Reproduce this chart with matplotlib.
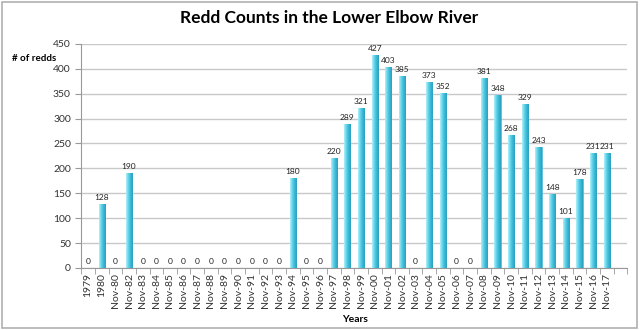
import matplotlib
matplotlib.use("Agg")
import matplotlib.pyplot as plt
from matplotlib.colors import LinearSegmentedColormap
import numpy as np

# data
years = ["1979", "1980", "Nov-80", "Nov-82", "Nov-83", "Nov-84", "Nov-85", "Nov-86",
         "Nov-87", "Nov-88", "Nov-89", "Nov-90", "Nov-91", "Nov-92", "Nov-93", "Nov-94",
         "Nov-95", "Nov-96", "Nov-97", "Nov-98", "Nov-99", "Nov-00", "Nov-01", "Nov-02",
         "Nov-03", "Nov-04", "Nov-05", "Nov-06", "Nov-07", "Nov-08", "Nov-09", "Nov-10",
         "Nov-11", "Nov-12", "Nov-13", "Nov-14", "Nov-15", "Nov-16", "Nov-17"]
redds = [0, 128, 0, 190, 0, 0, 0, 0,
         0, 0, 0, 0, 0, 0, 0, 180,
         0, 0, 220, 289, 321, 427, 403, 385,
         0, 373, 352, 0, 0, 381, 348, 268,
         329, 243, 148, 101, 178, 231, 231]

plt.rcParams['font.family'] = ['Lato', 'DejaVu Sans']

fig = plt.figure(figsize=(6.4, 3.3), dpi=100)
ax = fig.add_axes([0.127, 0.188, 0.853, 0.679])

x = np.arange(len(years))
bars = ax.bar(x, redds, width=0.45, color="#5fd0e8", edgecolor="#3fb6d2", linewidth=0.5, zorder=2)

# horizontal gradient inside each bar
cmap = LinearSegmentedColormap.from_list("cy", ["#b5f0fb", "#62d4ea", "#3bb8d4", "#2a9fbf"])
grad = np.linspace(0, 1, 64).reshape(1, -1)
for b in bars:
    h = b.get_height()
    if h <= 0:
        continue
    x0 = b.get_x()
    im = ax.imshow(grad, cmap=cmap, aspect="auto", extent=[x0, x0 + b.get_width(), 0, h],
                   zorder=2.5, interpolation="bilinear")
    im.set_clip_path(b)

for xi, v in zip(x, redds):
    ax.text(xi, v + 6, str(v), ha="center", va="bottom", fontsize=6, color="#222222")

ax.set_xlim(-0.5, len(years) + 0.5)
ax.set_ylim(0, 450)
ax.set_yticks(np.arange(0, 451, 50))
ax.set_xticks(x)
ax.set_xticklabels(years, rotation=90, fontsize=7.5, color="#333333")
ax.tick_params(axis="y", labelsize=7.5, colors="#333333", length=4, color="#999999")
ax.set_xticks(np.arange(-0.5, len(years) + 1, 1), minor=True)
ax.tick_params(axis="x", which="major", length=0)
ax.tick_params(axis="x", which="minor", length=4, color="#999999")

ax.grid(axis="y", color="#c8c8c8", linewidth=1, zorder=0)
for s in ["top", "right"]:
    ax.spines[s].set_visible(False)
ax.spines["left"].set_color("#999999")
ax.spines["bottom"].set_color("#999999")

fig.text(0.515, 0.93, "Redd Counts in the Lower Elbow River", ha="center", fontsize=12.5, fontweight="bold")
fig.text(0.019, 0.815, "# of redds", fontsize=7, fontweight="bold")
fig.text(0.535, 0.025, "Years", fontsize=7.5, fontweight="bold")

# outer frame
fig.patches.append(plt.Rectangle((0.003, 0.005), 0.992, 0.99, transform=fig.transFigure,
                                 fill=False, edgecolor="#b0b0b0", linewidth=1.2))

fig.savefig("out.png", dpi=100)
